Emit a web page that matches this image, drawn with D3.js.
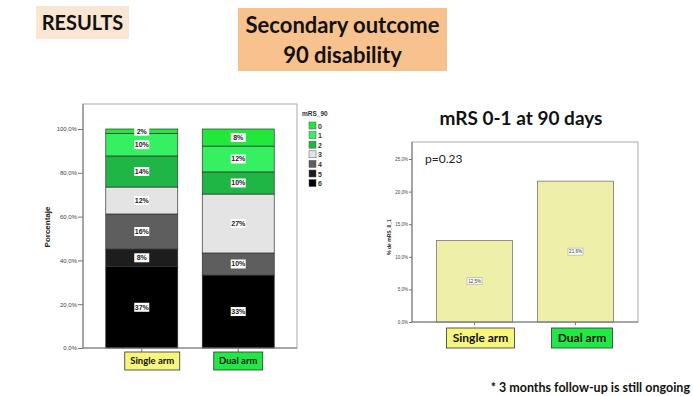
<!DOCTYPE html>
<meta charset="utf-8">
<style>
body { margin: 0; background: #fff; }
svg { font-family: "Liberation Sans", Arial, sans-serif; }
.slide { font-family: Lato, "Open Sans", sans-serif; font-weight: bold; fill: #111; }
.tick text { font-size: 6px; fill: #444; }
.axis path, .axis line { stroke: #777; }
</style>
<body></body>
<script src="https://d3js.org/d3.v7.min.js"></script>
<script>
// categories and values
var arms = ["Single arm", "Dual arm"];
var mrsLevels = ["0", "1", "2", "3", "4", "5", "6"];
var singleArm = [2.0, 10.3, 14.2, 12.3, 16.0, 8.0, 37.2];
var dualArm = [7.8, 11.8, 10.1, 26.9, 10.1, 0, 33.3];
var pctTicks = [0, 20, 40, 60, 80, 100];
var goodOutcome = [12.5, 21.6];
var goodTicks = [0, 5, 10, 15, 20, 25];

var mrsColors = ["#22e83c", "#35f060", "#1fb646", "#e4e4e4", "#5e5e5e", "#1d1d1d", "#000000"];
var armBoxColors = ["#f6f57c", "#22e846"];

var svg = d3.select("body").append("svg")
    .attr("width", 693)
    .attr("height", 396);

// slide headings
svg.append("rect").attr("x", 36).attr("y", 6).attr("width", 93).attr("height", 33).attr("fill", "#fbe6d2");
svg.append("text").attr("class", "slide").attr("x", 82.5).attr("y", 30)
    .attr("text-anchor", "middle").attr("font-size", 20).text("RESULTS");

svg.append("rect").attr("x", 238).attr("y", 8).attr("width", 209).attr("height", 63).attr("fill", "#f8c28e");
svg.append("text").attr("class", "slide").attr("x", 342.5).attr("y", 33)
    .attr("text-anchor", "middle").attr("font-size", 22).text("Secondary outcome");
svg.append("text").attr("class", "slide").attr("x", 342.5).attr("y", 63)
    .attr("text-anchor", "middle").attr("font-size", 22).text("90 disability");

svg.append("text").attr("class", "slide").attr("x", 690).attr("y", 392)
    .attr("text-anchor", "end").attr("font-size", 12.5).text("* 3 months follow-up is still ongoing");

// ---------- left: stacked mRS distribution ----------
var fmt = function(d) { return d.toFixed(1).replace(".", ",") + "%"; };

var x1 = d3.scaleBand().domain(arms).range([83, 297]).paddingInner(0.254).paddingOuter(0.236);
var y1 = d3.scaleLinear().domain([0, 100]).range([348, 129]);

svg.append("rect").attr("x", 83).attr("y", 104).attr("width", 214).attr("height", 244)
    .attr("fill", "none").attr("stroke", "#aaa");

var rows = arms.map(function(a, i) {
  var r = { arm: a };
  mrsLevels.forEach(function(k, j) { r[k] = (i == 0 ? singleArm : dualArm)[j]; });
  return r;
});
var stackKeys = mrsLevels.slice().reverse();
var series = d3.stack().keys(stackKeys)(rows);

var layer = svg.selectAll(".layer")
    .data(series)
  .enter().append("g")
    .attr("class", "layer")
    .attr("fill", function(s) { return mrsColors[mrsLevels.indexOf(s.key)]; });

layer.selectAll("rect")
    .data(function(s) { return s.filter(function(d) { return d[1] - d[0] > 0; }); })
  .enter().append("rect")
    .attr("x", function(d) { return x1(d.data.arm); })
    .attr("y", function(d) { return y1(d[1]); })
    .attr("width", x1.bandwidth())
    .attr("height", function(d) { return y1(d[0]) - y1(d[1]); })
    .attr("stroke", "#333")
    .attr("stroke-width", 0.7);

var segLabels = [];
series.forEach(function(s) {
  s.forEach(function(d) {
    if (d[1] - d[0] > 0) segLabels.push({ x: x1(d.data.arm) + x1.bandwidth() / 2, y: y1((d[0] + d[1]) / 2), t: Math.round(d[1] - d[0]) + "%" });
  });
});
var segG = svg.selectAll(".seglab").data(segLabels).enter().append("g")
    .attr("class", "seglab")
    .attr("transform", function(d) { return "translate(" + d.x + "," + d.y + ")"; });
segG.append("rect").attr("x", -7.5).attr("y", -4.5).attr("width", 15).attr("height", 9).attr("fill", "#fff");
segG.append("text").attr("text-anchor", "middle").attr("dy", "0.35em")
    .attr("font-size", 7).attr("font-weight", "bold").attr("fill", "#222")
    .text(function(d) { return d.t; });

svg.append("g").attr("class", "axis")
    .attr("transform", "translate(83,0)")
    .call(d3.axisLeft(y1).tickValues(pctTicks).tickFormat(fmt).tickSize(5).tickPadding(1))
    .call(function(g) { g.select(".domain").attr("d", "M0,104V348"); });

svg.append("g").attr("class", "axis")
    .attr("transform", "translate(0,348)")
    .call(d3.axisBottom(x1).tickSize(4).tickFormat(""))
    .call(function(g) { g.select(".domain").attr("d", "M83,0H297"); });

svg.append("text")
    .attr("transform", "translate(50,227) rotate(-90)")
    .attr("text-anchor", "middle").attr("font-size", 8).attr("font-weight", "bold").attr("fill", "#222")
    .text("Porcentaje");

var armBox1 = svg.selectAll(".armbox1").data(arms).enter().append("g")
    .attr("class", "armbox1")
    .attr("transform", function(d) { return "translate(" + (x1(d) + x1.bandwidth() / 2) + ",361)"; });
armBox1.append("rect")
    .attr("x", function(d, i) { return i == 0 ? -17 : -24.5; })
    .attr("width", function(d, i) { return i == 0 ? 55 : 49; })
    .attr("y", -9).attr("height", 18)
    .attr("fill", function(d, i) { return armBoxColors[i]; })
    .attr("stroke", "#333").attr("stroke-width", 0.8);
armBox1.append("text")
    .attr("x", function(d, i) { return i == 0 ? 10.5 : 0; })
    .attr("text-anchor", "middle").attr("dy", "0.35em")
    .attr("class", "slide").attr("font-weight", "normal").attr("font-size", 9.5)
    .text(function(d) { return d; });

// legend
svg.append("text").attr("x", 302).attr("y", 116).attr("font-size", 6.5).attr("font-weight", "bold").attr("fill", "#333").text("mRS_90");
var leg = svg.selectAll(".leg").data(mrsLevels).enter().append("g")
    .attr("class", "leg")
    .attr("transform", function(d, i) { return "translate(309," + (122 + i * 9.6) + ")"; });
leg.append("rect").attr("width", 7).attr("height", 7)
    .attr("fill", function(d, i) { return mrsColors[i]; })
    .attr("stroke", "#555").attr("stroke-width", 0.5);
leg.append("text").attr("x", 9).attr("y", 6.5).attr("font-size", 7).attr("font-weight", "bold").attr("fill", "#333")
    .text(function(d) { return d; });

// ---------- right: mRS 0-1 at 90 days ----------
var x2 = d3.scaleBand().domain(arms).range([412, 638]).paddingInner(0.2475).paddingOuter(0.2426);
var y2 = d3.scaleLinear().domain([0, 25]).range([322, 159]);

svg.append("text").attr("class", "slide").attr("x", 521).attr("y", 125)
    .attr("text-anchor", "middle").attr("font-size", 19).text("mRS 0-1 at 90 days");

svg.append("rect").attr("x", 412).attr("y", 142).attr("width", 226).attr("height", 180)
    .attr("fill", "none").attr("stroke", "#aaa");

svg.selectAll(".goodbar").data(goodOutcome).enter().append("rect")
    .attr("class", "goodbar")
    .attr("x", function(d, i) { return x2(arms[i]); })
    .attr("y", function(d) { return y2(d); })
    .attr("width", x2.bandwidth())
    .attr("height", function(d) { return y2(0) - y2(d); })
    .attr("fill", "#eef0aa")
    .attr("stroke", "#777").attr("stroke-width", 0.8);

var goodLab = svg.selectAll(".goodlab").data(goodOutcome).enter().append("g")
    .attr("class", "goodlab")
    .attr("transform", function(d, i) { return "translate(" + (x2(arms[i]) + x2.bandwidth() / 2) + "," + y2(d / 2) + ")"; });
goodLab.append("rect").attr("x", -7.5).attr("y", -3.5).attr("width", 15).attr("height", 7)
    .attr("fill", "#fff").attr("stroke", "#999").attr("stroke-width", 0.5);
goodLab.append("text").attr("text-anchor", "middle").attr("dy", "0.35em")
    .attr("font-size", 4.5).attr("fill", "#333")
    .text(function(d) { return d.toFixed(1).replace(".", ",") + "%"; });

svg.append("g").attr("class", "axis")
    .attr("transform", "translate(412,0)")
    .call(d3.axisLeft(y2).tickValues(goodTicks).tickFormat(fmt).tickSize(3).tickPadding(1))
    .call(function(g) { g.select(".domain").attr("d", "M0,142V322"); g.selectAll(".tick text").style("font-size", "4.5px"); });

svg.append("g").attr("class", "axis")
    .attr("transform", "translate(0,322)")
    .call(d3.axisBottom(x2).tickSize(3).tickFormat(""))
    .call(function(g) { g.select(".domain").attr("d", "M412,0H638"); });

svg.append("text")
    .attr("transform", "translate(391,237) rotate(-90)")
    .attr("text-anchor", "middle").attr("font-size", 5).attr("font-weight", "bold").attr("fill", "#222")
    .text("% de mRS_0_1");

svg.append("text").attr("x", 425).attr("y", 163).attr("font-size", 12).attr("fill", "#222")
    .attr("font-family", "Lato, sans-serif").text("p=0.23");

var armBox2 = svg.selectAll(".armbox2").data(arms).enter().append("g")
    .attr("class", "armbox2")
    .attr("transform", function(d) { return "translate(" + (x2(d) + x2.bandwidth() / 2) + ",338)"; });
armBox2.append("rect")
    .attr("x", function(d, i) { return i == 0 ? -28 : -24; })
    .attr("width", function(d, i) { return i == 0 ? 68 : 61; })
    .attr("y", -10).attr("height", 20)
    .attr("fill", function(d, i) { return armBoxColors[i]; })
    .attr("stroke", "#333").attr("stroke-width", 0.8);
armBox2.append("text")
    .attr("x", function(d, i) { return i == 0 ? 6 : 6.5; })
    .attr("text-anchor", "middle").attr("dy", "0.35em")
    .attr("class", "slide").attr("font-size", 12)
    .text(function(d) { return d; });
</script>
